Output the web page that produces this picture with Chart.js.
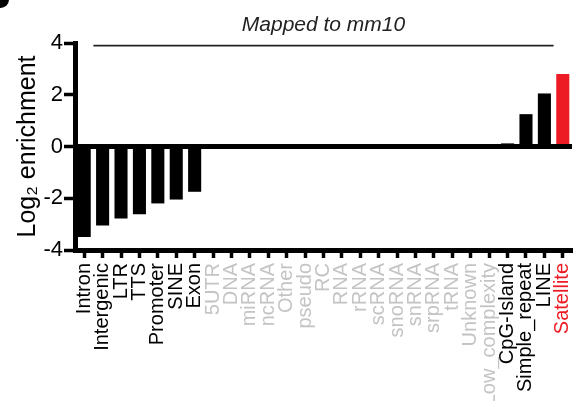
<!DOCTYPE html>
<html>
<head>
<meta charset="utf-8">
<script src="https://cdn.jsdelivr.net/npm/chart.js@4"></script>
<style>
  body { margin: 0; background: #fff; overflow: hidden; }
  #wrap { position: relative; width: 574px; height: 401px; }
  /* cut off panel letter blob in the corner */
  #blob { position: absolute; left: -8px; top: -9px; width: 17px; height: 17px; border-radius: 50%; background: #000; }
</style>
</head>
<body>
<div id="wrap">
  <canvas id="myChart" width="574" height="401"></canvas>
  <div id="blob"></div>
</div>
<script>
// categories (genomic features)
const categories = ['Intron', 'Intergenic', 'LTR', 'TTS', 'Promoter', 'SINE', 'Exon',
  '5UTR', 'DNA', 'miRNA', 'ncRNA', 'Other', 'pseudo', 'RC', 'RNA', 'rRNA', 'scRNA',
  'snoRNA', 'snRNA', 'srpRNA', 'tRNA', 'Unknown', 'Low_complexity',
  'CpG-Island', 'Simple_repeat', 'LINE', 'Satellite'];

// log2 enrichment per category
const enrichment = [-3.5, -3.05, -2.78, -2.62, -2.2, -2.05, -1.75,
  0, 0, 0, 0, 0, 0, 0, 0, 0, 0,
  0, 0, 0, 0, 0, 0,
  0.12, 1.25, 2.05, 2.8];

// categories with no data are shown greyed out
const greyed = ['5UTR', 'DNA', 'miRNA', 'ncRNA', 'Other', 'pseudo', 'RC', 'RNA', 'rRNA',
  'scRNA', 'snoRNA', 'snRNA', 'srpRNA', 'tRNA', 'Unknown', 'Low_complexity'];
const highlighted = ['Satellite'];

// y ticks
const yTicks = [-4, -2, 0, 2, 4];

// bracket over the chart
const bracketText = 'Mapped to mm10';
const bracketSpan = [0.5, 25.5];
const bracketLevel = 3.9;

const RED = '#ed1c24';
const GREY = '#c4c4c4';

const barColors = categories.map(c => highlighted.includes(c) ? RED : '#000');
const labelColors = categories.map(c => highlighted.includes(c) ? RED : (greyed.includes(c) ? GREY : '#000'));

Chart.defaults.font.family = '"Liberation Sans", Arial, sans-serif';

// draws the bracket line and its label
const bracketPlugin = {
  id: 'bracket',
  afterDraw(chart) {
    const { ctx } = chart;
    const x = chart.scales.x, y = chart.scales.y;
    const x0 = x.getPixelForValue(bracketSpan[0]);
    const x1 = x.getPixelForValue(bracketSpan[1]);
    const yy = y.getPixelForValue(bracketLevel);
    ctx.save();
    ctx.strokeStyle = '#222';
    ctx.lineWidth = 1.8;
    ctx.beginPath();
    ctx.moveTo(x0, yy);
    ctx.lineTo(x1, yy);
    ctx.stroke();
    ctx.fillStyle = '#222';
    ctx.font = 'italic 21px "Liberation Sans", Arial, sans-serif';
    ctx.textAlign = 'center';
    ctx.textBaseline = 'alphabetic';
    ctx.fillText(bracketText, (x0 + x1) / 2, yy - 15);
    ctx.restore();
  }
};

const config = {
  type: 'bar',
  data: {
    labels: categories,
    datasets: [{
      data: enrichment,
      backgroundColor: barColors,
      borderWidth: 0,
      barPercentage: 0.71,
      categoryPercentage: 1
    }]
  },
  options: {
    responsive: false,
    animation: false,
    layout: { padding: { top: 43, right: 2, left: 0, bottom: 0 } },
    plugins: {
      legend: { display: false },
      tooltip: { enabled: false }
    },
    scales: {
      x: {
        offset: true,
        border: { color: '#000', width: 5 },
        grid: {
          drawOnChartArea: false,
          offset: false,
          tickLength: 8,
          tickWidth: 3.5,
          tickColor: '#000'
        },
        ticks: {
          autoSkip: false,
          maxRotation: 90,
          minRotation: 90,
          padding: 5,
          color: ctx => labelColors[ctx.index],
          font: { size: 20 }
        },
        afterFit(scale) {
          scale.height = 151;
          scale.paddingLeft = 0;
          scale.paddingRight = 0;
        }
      },
      y: {
        min: -4,
        max: 4,
        afterBuildTicks(scale) { scale.ticks = yTicks.map(v => ({ value: v })); },
        border: { color: '#000', width: 5 },
        grid: {
          color: ctx => ctx.tick && ctx.tick.value === 0 ? '#000' : 'rgba(0,0,0,0)',
          lineWidth: ctx => ctx.tick && ctx.tick.value === 0 ? 5 : 1,
          tickLength: 11,
          tickWidth: 3.5,
          tickColor: '#000'
        },
        ticks: {
          color: '#000',
          padding: 1,
          font: { size: 22 }
        },
        title: {
          display: true,
          text: 'Log\u2082 enrichment',
          color: '#000',
          font: { size: 25 },
          padding: { top: 13, bottom: 0 }
        },
        afterFit(scale) { scale.width = 75; }
      }
    }
  },
  plugins: [bracketPlugin]
};

const myChart = new Chart(document.getElementById('myChart'), config);
</script>
</body>
</html>
